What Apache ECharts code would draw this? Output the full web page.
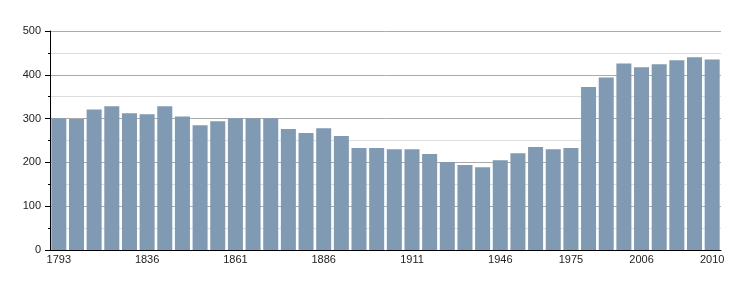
<!DOCTYPE html>
<html>
<head>
<meta charset="utf-8">
<script src="https://cdn.jsdelivr.net/npm/echarts@6/dist/echarts.min.js"></script>
<style>html,body{margin:0;padding:0;background:#fff}#c{width:750px;height:300px}</style>
</head>
<body>
<div id="c"></div>
<script>
var years = ['1793','1800','1806','1821','1831','1836','1841','1846','1851','1856','1861','1866','1872','1876','1881','1886','1891','1896','1901','1906','1911','1921','1926','1931','1936','1946','1954','1962','1968','1975','1982','1990','1999','2006','2007','2008','2009','2010'];
var population = [301,299,321,328,312,310,328,305,285,294,301,301,301,276,267,278,260,233,233,230,230,219,201,194,189,205,221,235,230,233,372,394,426,417,424,433,440,435];
var shownLabels = ['1793','1836','1861','1886','1911','1946','1975','2006','2010'];

var chart = echarts.init(document.getElementById('c'), null, {renderer:'canvas'});
var font = 'Liberation Sans, Arial, sans-serif';
chart.setOption({
  animation: false,
  grid: {left: 50, right: 29, top: 31, bottom: 50, containLabel: false},
  xAxis: {
    type: 'category',
    data: years,
    boundaryGap: true,
    axisLine: {show: true, lineStyle: {color: '#000', width: 1}},
    axisTick: {show: false},
    axisLabel: {
      interval: function(i, v){ return shownLabels.indexOf(v) >= 0; },
      color: '#222', fontFamily: font, fontSize: 11, margin: 4
    },
    splitLine: {show: false}
  },
  yAxis: {
    type: 'value',
    min: 0, max: 500, interval: 100,
    axisLine: {show: true, lineStyle: {color: '#000', width: 1}},
    axisTick: {show: true, length: 5, lineStyle: {color: '#000'}},
    minorTick: {show: true, splitNumber: 2, length: 2, lineStyle: {color: '#000'}},
    axisLabel: {color: '#222', fontFamily: font, fontSize: 11, margin: 9},
    splitLine: {show: true, lineStyle: {color: '#aaa', width: 1}},
    minorSplitLine: {show: true, lineStyle: {color: '#ddd', width: 1}}
  },
  series: [{
    type: 'bar',
    data: population,
    barCategoryGap: '15%',
    itemStyle: {color: '#7f9ab2'}
  }]
});
</script>
</body>
</html>
